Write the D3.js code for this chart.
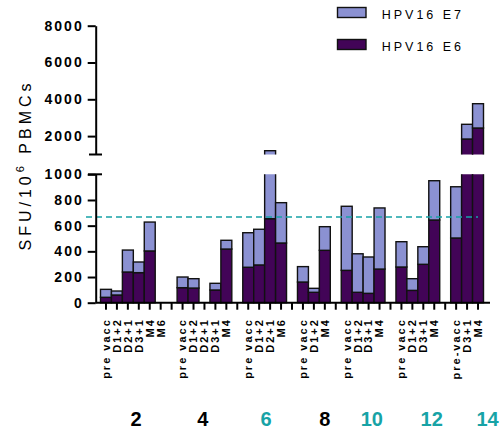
<!DOCTYPE html>
<html><head><meta charset="utf-8">
<script src="https://cdn.jsdelivr.net/npm/d3@7"></script>
<style>
body{margin:0;background:#fff;}
svg{font-family:"Liberation Sans",Arial,sans-serif;}
</style></head>
<body><svg id="c" width="500" height="430"></svg>
<script>
// ---- data ----
const slotLabels = ["pre vacc","D1+2","D2+1","D3+1","M4","M6","",
  "pre vacc","D1+2","D2+1","D3+1","M4","",
  "pre vacc","D1+2","D2+1","M6","",
  "pre vacc","D1+2","M4","",
  "pre vacc","D1+2","D3+1","M4","",
  "pre vacc","D1+2","D3+1","M4","",
  "pre-vacc","D3+1","M4"];
const e6Values = [42,60,239,234,403,0,null,
  117,114,0,99,418,null,
  276,294,654,465,null,
  161,81,408,null,
  252,81,73,262,null,
  278,96,299,644,null,
  504,1842,2440];
const e7Values = [62,31,171,83,225,0,null,
  83,73,0,52,68,null,
  269,278,552,314,null,
  120,31,184,null,
  499,300,283,476,null,
  197,91,137,306,null,
  399,799,1321];
const groupLabels = ["2","4","6","8","10","12","14"];
const groupHighlight = [false,false,true,false,true,true,true];
const threshold = 667;
const lowTicks = [0,200,400,600,800,1000];
const highTicks = [2000,4000,6000,8000];
const seriesNames = ["HPV16 E7","HPV16 E6"];

// ---- layout ----
const groupLabelSlot = [2.74,8.86,14.63,19.99,24.29,29.77,34.87];
const C_E7 = "#8b91d2", C_E6 = "#420457", TEAL = "#17a3a6";
const axisX = 95.7, xEnd = 490;
const lowTop = 174.3, lowBot = 302.7, highTop = 25.7, highBot = 154.5;

const svg = d3.select("#c");
const slots = d3.range(slotLabels.length);
const x = d3.scaleBand().domain(slots).range([100.5, 483.5]).paddingInner(0).paddingOuter(0);
const bw = x.bandwidth();
const yLow = d3.scaleLinear().domain([0,1000]).range([lowBot, lowTop]);
const yHigh = d3.scaleLinear().domain([1000,8000]).range([highBot, highTop]);

const defs = svg.append("defs");
defs.append("clipPath").attr("id","clipLow").append("rect")
  .attr("x",0).attr("y",lowTop).attr("width",500).attr("height",lowBot-lowTop+5);
defs.append("clipPath").attr("id","clipHigh").append("rect")
  .attr("x",0).attr("y",0).attr("width",500).attr("height",highBot);

// stacked segments
const segs = [];
slots.forEach(i=>{
  const a = e6Values[i], b = e7Values[i];
  if (a==null || (a+b)===0) return;
  segs.push({i, y0:0, y1:a, c:C_E6});
  segs.push({i, y0:a, y1:a+b, c:C_E7});
});

[["clipLow",yLow,0,1000],["clipHigh",yHigh,1000,8000]].forEach(([cid,ys,lo,hi])=>{
  const g = svg.append("g").attr("clip-path",`url(#${cid})`);
  const vis = segs.filter(s=>s.y1>lo);
  g.selectAll("rect").data(vis).join("rect")
    .attr("x",d=>x(d.i))
    .attr("width",bw)
    .attr("y",d=>ys(Math.min(d.y1, hi+ (hi-lo))))
    .attr("height",d=>{
      const top = ys(Math.min(d.y1, hi+(hi-lo)));
      const bot = d.y0<lo ? ys(lo)+20 : ys(d.y0);
      return Math.max(0, bot-top);
    })
    .attr("fill",d=>d.c)
    .attr("stroke","#111")
    .attr("stroke-width",1.4);
});

// threshold
svg.append("line")
  .attr("x1",86).attr("x2",478)
  .attr("y1",yLow(threshold)).attr("y2",yLow(threshold))
  .attr("stroke",TEAL).attr("stroke-width",1.6).attr("stroke-dasharray","6,4");

// y axes
function styleAxis(g){
  g.selectAll("path,line").attr("stroke","#000").attr("stroke-width",2);
  g.selectAll("text").attr("font-size",14).attr("font-weight","bold")
    .attr("letter-spacing",2).attr("fill","#000");
}
svg.append("g").attr("transform",`translate(${axisX},0)`)
  .call(d3.axisLeft(yLow).tickValues(lowTicks).tickSize(8).tickSizeOuter(0).tickPadding(4).tickFormat(d3.format("d")))
  .call(styleAxis);
svg.append("g").attr("transform",`translate(${axisX},0)`)
  .call(d3.axisLeft(yHigh).tickValues(highTicks).tickSize(8).tickSizeOuter(0).tickPadding(4).tickFormat(d3.format("d")))
  .call(styleAxis);
// break marks
svg.append("line").attr("x1",88).attr("x2",102).attr("y1",yLow(1000)).attr("y2",yLow(1000))
  .attr("stroke","#000").attr("stroke-width",2);
svg.append("line").attr("x1",89).attr("x2",102).attr("y1",yHigh(1000)).attr("y2",yHigh(1000))
  .attr("stroke","#000").attr("stroke-width",2);

// x axis
const xa = svg.append("g").attr("transform",`translate(0,${lowBot})`)
  .call(d3.axisBottom(x).tickSize(7).tickSizeOuter(0).tickFormat(i=>slotLabels[i]));
xa.select(".domain").attr("d",`M${axisX},0H${xEnd}`);
xa.selectAll("path,line").attr("stroke","#000").attr("stroke-width",2);
xa.selectAll("text")
  .attr("transform","rotate(-90)")
  .attr("x",-15.5).attr("y",0).attr("dy","0.35em")
  .attr("text-anchor","end")
  .attr("font-size",11).attr("font-weight","bold").attr("letter-spacing",2).attr("fill","#000");

// group labels
const gx = d3.scaleLinear().domain([0, slots.length-1]).range([x(0)+bw/2, x(slots.length-1)+bw/2]);
svg.append("g").selectAll("text").data(groupLabels).join("text")
  .attr("x",(d,k)=>gx(groupLabelSlot[k]))
  .attr("y",426)
  .attr("text-anchor","middle")
  .attr("font-size",20).attr("font-weight","bold")
  .attr("fill",(d,k)=>groupHighlight[k]?TEAL:"#000")
  .text(d=>d);

// y title
const yt = svg.append("text")
  .attr("transform","translate(31,165) rotate(-90)")
  .attr("text-anchor","middle")
  .attr("font-size",16).attr("letter-spacing",4).attr("fill","#000");
yt.append("tspan").text("SFU/10");
yt.append("tspan").text("6").attr("font-size",11).attr("dy",-7);
yt.append("tspan").text(" PBMCs").attr("dy",7);

// legend
const lg = svg.append("g");
const legColors = [C_E7, C_E6];
seriesNames.forEach((n,k)=>{
  lg.append("rect").attr("x",337.5).attr("y",7.5+k*32).attr("width",28.5).attr("height",10)
    .attr("fill",legColors[k]).attr("stroke","#111").attr("stroke-width",1.4);
  lg.append("text").attr("x",381.7).attr("y",19+k*32)
    .attr("font-size",12.5).attr("letter-spacing",3).attr("fill","#000").text(n);
});
</script></body></html>
